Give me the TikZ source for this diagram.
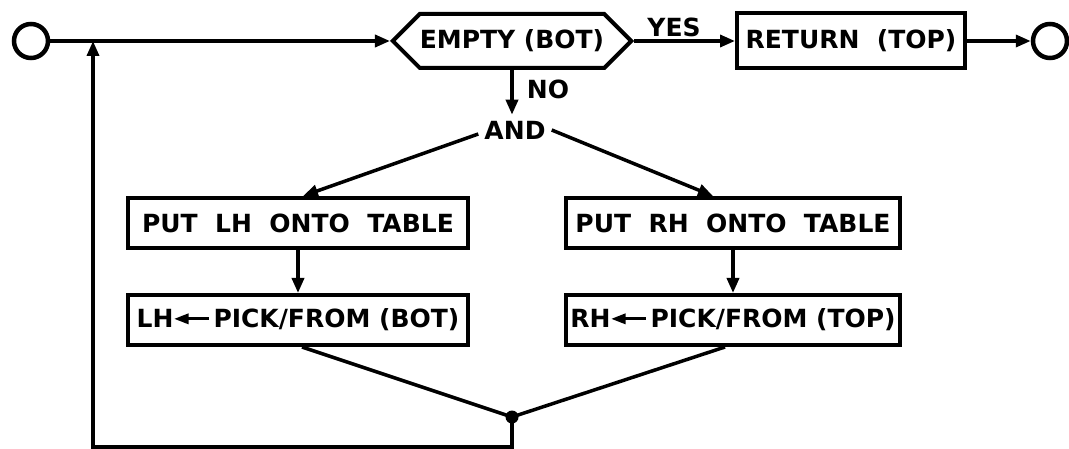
\documentclass[tikz,border=0pt]{standalone}
\usepackage{fontspec}
\setmainfont{DejaVu Sans}
\usetikzlibrary{arrows.meta,shapes.symbols}
% small left arrow used inside the PICK boxes
\newcommand\pickarrow{\kern1pt\tikz[baseline=0pt,x=1pt,y=1pt]{%
  \fill (0,9) -- (14,3.5) -- (14,14.5) -- cycle;
  \fill (12,7.5) rectangle (34,10.5);}\kern5pt}
\begin{document}
\begin{tikzpicture}[x=1pt,y=-1pt,
  every node/.style={font=\fontsize{25}{30}\selectfont\bfseries},
  flow/.style={line width=3.5pt, -{Triangle[length=15pt,width=12pt]}},
  plain/.style={line width=3.5pt},
  procbox/.style={draw, line width=4pt, rectangle, inner sep=0pt, minimum height=50pt},
  decision/.style={draw, line width=4pt, signal, signal to=west and east,
    signal pointer angle=90, inner sep=0pt, minimum width=232pt, minimum height=54pt},
  terminal/.style={draw, circle, line width=4.5pt, minimum size=34pt, inner sep=0pt},
  lbl/.style={inner sep=0pt}
]
\useasboundingbox (0,0) rectangle (1069,449);

% main line: entry, test, exit
\node[terminal] (start) at (31,41) {};
\node[decision] (empty) at (512,41) {EMPTY (BOT)};
\node[procbox, minimum width=228pt, minimum height=55pt] (ret) at (851,41) {RETURN\ \ (TOP)};
\node[terminal] (stop) at (1050,41) {};
\node[lbl] (yes) at (674,27) {YES};
\node[lbl] (no) at (548,89) {NO};
\node[lbl, inner sep=6pt] (and) at (515,130) {AND};

% the two hands
\node[procbox, minimum width=340pt] (lhput) at (298,223) {PUT\ \ LH\ \ ONTO\ \ TABLE};
\node[procbox, minimum width=340pt] (lhpick) at (298,320) {LH\pickarrow PICK/FROM\ (BOT)};
\node[procbox, minimum width=334pt] (rhput) at (733,223) {PUT\ \ RH\ \ ONTO\ \ TABLE};
\node[procbox, minimum width=334pt] (rhpick) at (733,320) {RH\pickarrow PICK/FROM (TOP)};

% junction and loop back
\node[circle, fill, inner sep=0pt, minimum size=13pt] (dot) at (512,417) {};
\coordinate (join) at (93,41);
\coordinate (corner) at (93,447);

\draw[flow] (start) -- (empty.west);
\draw[flow] (empty.east) -- (ret.west);
\draw[flow] (ret.east) -- (stop.west);
\draw[flow] (empty.south) -- (empty.south |- and.north);
\draw[flow] ([yshift=-4pt]and.west) -- ([xshift=5pt]lhput.north);
\draw[flow] (and.east) -- ([xshift=-20pt]rhput.north);
\draw[flow] (lhput) -- (lhpick);
\draw[flow] (rhput) -- (rhpick);
\draw[plain] ([xshift=4pt]lhpick.south) -- (dot.center);
\draw[plain] ([xshift=-8pt]rhpick.south) -- (dot.center);
\draw[flow] (dot.center) |- (corner) -- (join);
\end{tikzpicture}
\end{document}
